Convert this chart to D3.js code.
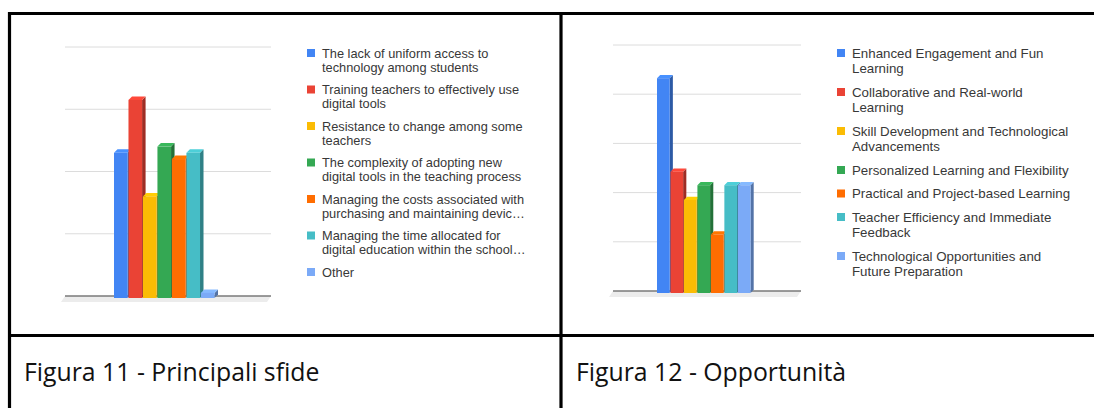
<!DOCTYPE html>
<html>
<head>
<meta charset="utf-8">
<script src="https://cdn.jsdelivr.net/npm/d3@7"></script>
<style>
  body { margin: 0; background: #fff; }
  svg { display: block; }
</style>
</head>
<body>
<script>
// donnees figure 11 - sfide
const sfideLabels = [
  ["The lack of uniform access to", "technology among students"],
  ["Training teachers to effectively use", "digital tools"],
  ["Resistance to change among some", "teachers"],
  ["The complexity of adopting new", "digital tools in the teaching process"],
  ["Managing the costs associated with", "purchasing and maintaining devic…"],
  ["Managing the time allocated for", "digital education within the school…"],
  ["Other"]
];
const sfideValues = [23, 31.5, 16, 24, 22, 23, 0.5];
const sfideTicks = [0, 10, 20, 30, 40];

// donnees figure 12 - opportunita
const oppLabels = [
  ["Enhanced Engagement and Fun", "Learning"],
  ["Collaborative and Real-world", "Learning"],
  ["Skill Development and Technological", "Advancements"],
  ["Personalized Learning and Flexibility"],
  ["Practical and Project-based Learning"],
  ["Teacher Efficiency and Immediate", "Feedback"],
  ["Technological Opportunities and", "Future Preparation"]
];
const oppValues = [8.65, 4.85, 3.7, 4.3, 2.3, 4.3, 4.3];
const oppTicks = [0, 2, 4, 6, 8, 10];

const captions = ["Figura 11 - Principali sfide", "Figura 12 - Opportunità"];

const colors = ["#4285f4", "#ea4335", "#fbbc04", "#34a853", "#ff6d01", "#46bdc6", "#7baaf7"];

const svg = d3.select("body").append("svg").attr("width", 1094).attr("height", 408);
svg.append("rect").attr("width", 1094).attr("height", 408).attr("fill", "#fff");

// un graphique a barres 3D
function chart(cfg) {
  const g = svg.append("g");
  const x = d3.scaleBand().domain(d3.range(cfg.values.length))
    .range([cfg.barX0, cfg.barX1]).paddingInner(0.06);
  const y = d3.scaleLinear().domain([0, d3.max(cfg.ticks)]).range([cfg.base, cfg.top]);
  const dx = cfg.depth, dy = cfg.depth;

  // sol
  g.append("polygon")
    .attr("points", [[cfg.gx0, cfg.base], [cfg.gx1, cfg.base], [cfg.gx1 - 4, cfg.base + 6], [cfg.gx0 - 4, cfg.base + 6]].join(" "))
    .attr("fill", "#ececec");

  // grille
  g.selectAll(".grid").data(cfg.ticks.slice(1)).enter().append("line")
    .attr("x1", cfg.gx0).attr("x2", cfg.gx1)
    .attr("y1", d => y(d)).attr("y2", d => y(d))
    .attr("stroke", "#dcdcdc").attr("stroke-width", 1);

  g.append("line").attr("x1", cfg.gx0).attr("x2", cfg.gx1)
    .attr("y1", cfg.base).attr("y2", cfg.base)
    .attr("stroke", "#7a7a7a").attr("stroke-width", 1.3);

  const bars = g.selectAll(".bar").data(cfg.values).enter().append("g");
  // cote
  bars.append("polygon")
    .attr("points", (d, i) => {
      const x1 = x(i) + x.bandwidth();
      return [[x1, y(d)], [x1 + dx, y(d) - dy], [x1 + dx, cfg.base - dy + 2], [x1, cfg.base + 2]].join(" ");
    })
    .attr("fill", (d, i) => d3.color(colors[i]).darker(1.1));
  // dessus
  bars.append("polygon")
    .attr("points", (d, i) => {
      const x0 = x(i), x1 = x(i) + x.bandwidth();
      return [[x0, y(d)], [x0 + dx, y(d) - dy], [x1 + dx, y(d) - dy], [x1, y(d)]].join(" ");
    })
    .attr("fill", (d, i) => d3.color(colors[i]).brighter(0.25));
  // face
  bars.append("rect")
    .attr("x", (d, i) => x(i)).attr("width", x.bandwidth())
    .attr("y", d => y(d)).attr("height", d => cfg.base + 2 - y(d))
    .attr("fill", (d, i) => colors[i]);

  // legende
  let ly = cfg.legY;
  cfg.labels.forEach((lines, i) => {
    g.append("rect").attr("x", cfg.legX).attr("y", ly - 4).attr("width", 8).attr("height", 8)
      .attr("fill", colors[i]);
    const t = g.append("text").attr("x", cfg.legX + 15).attr("y", ly + 4.5)
      .attr("font-family", "Liberation Sans, Arial, sans-serif")
      .attr("font-size", cfg.fs).attr("fill", "#383838");
    lines.forEach((l, k) => {
      t.append("tspan").attr("x", cfg.legX + 15).attr("dy", k === 0 ? 0 : cfg.lh).text(l);
    });
    ly += lines.length * cfg.lh + cfg.gap;
  });
}

chart({ values: sfideValues, labels: sfideLabels, ticks: sfideTicks,
  barX0: 114, barX1: 214.5, base: 296, top: 47, gx0: 65, gx1: 271, depth: 3.5,
  legX: 307, legY: 53, fs: 12.8, lh: 14.2, gap: 8.1 });

chart({ values: oppValues, labels: oppLabels, ticks: oppTicks,
  barX0: 657, barX1: 750.5, base: 291, top: 45, gx0: 613, gx1: 801, depth: 3.2,
  legX: 837, legY: 53, fs: 13.3, lh: 15.5, gap: 8 });

// tableau
const border = svg.append("g").attr("stroke", "#000").attr("stroke-width", 3.2);
border.append("line").attr("x1", 8).attr("x2", 1094).attr("y1", 13.5).attr("y2", 13.5);
border.append("line").attr("x1", 8).attr("x2", 1094).attr("y1", 335.5).attr("y2", 335.5);
border.append("line").attr("x1", 9.5).attr("x2", 9.5).attr("y1", 12).attr("y2", 408);
border.append("line").attr("x1", 561).attr("x2", 561).attr("y1", 12).attr("y2", 408);

// legendes des figures
svg.selectAll(".cap").data(captions).enter().append("text")
  .attr("x", (d, i) => i === 0 ? 24 : 576)
  .attr("y", 381)
  .attr("font-family", "Open Sans, sans-serif")
  .attr("font-size", 24.8)
  .attr("fill", "#111")
  .text(d => d);
</script>
</body>
</html>
